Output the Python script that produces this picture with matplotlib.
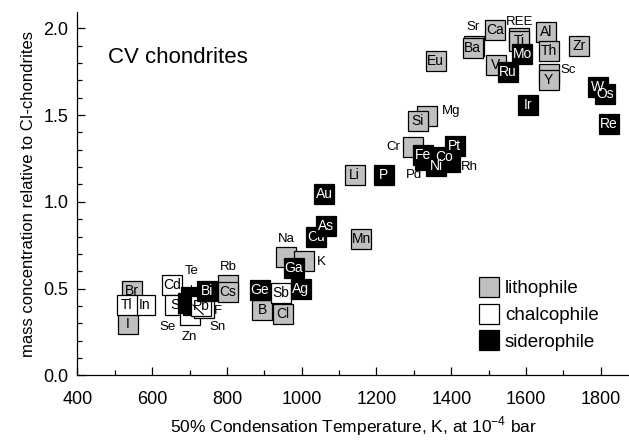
import matplotlib
matplotlib.use("Agg")
import matplotlib.pyplot as plt
from matplotlib.lines import Line2D
from matplotlib.ticker import MultipleLocator, FormatStrFormatter

plt.rcParams['font.family'] = ['Liberation Sans', 'DejaVu Sans']

# element data: name, 50% condensation temperature (K), CV/CI mass ratio, class
# listed in drawing order (later ones sit on top)
elements = ['Br', 'I', 'In', 'Tl', 'Cd', 'S', 'Zn', 'Se', 'Sn', 'Te', 'F', 'Pb',
            'Rb', 'Cs', 'Bi', 'B', 'Cl', 'Ge', 'Sb', 'Na', 'K', 'Ga', 'Ag',
            'Cu', 'As', 'Mn', 'Au', 'Li', 'P', 'Cr', 'Mg', 'Si', 'Pd', 'Rh',
            'Fe', 'Co', 'Pt', 'Ni', 'Eu', 'Sr', 'Ba', 'Ca', 'V', 'REE', 'Ti',
            'Ru', 'Mo', 'Al', 'Th', 'Sc', 'Y', 'Zr', 'Ir', 'W', 'Os', 'Re']
temps = [546, 536, 581, 533, 653, 661, 700, 696, 709, 704, 739, 731,
         803, 803, 748, 894, 950, 888, 945, 958, 1006, 979, 998,
         1038, 1065, 1159, 1060, 1142, 1220, 1298, 1336, 1311, 1329, 1396,
         1324, 1380, 1409, 1359, 1358, 1461, 1457, 1517, 1519, 1582, 1582,
         1552, 1590, 1653, 1661, 1660, 1660, 1741, 1604, 1791, 1812, 1822]
ratios = [0.487, 0.297, 0.406, 0.406, 0.519, 0.406, 0.349, 0.418, 0.406, 0.452, 0.389, 0.400,
          0.522, 0.481, 0.487, 0.377, 0.354, 0.493, 0.475, 0.683, 0.660, 0.620, 0.499,
          0.796, 0.862, 0.787, 1.046, 1.156, 1.156, 1.314, 1.493, 1.468, 1.243, 1.231,
          1.272, 1.260, 1.320, 1.208, 1.814, 1.901, 1.889, 1.993, 1.788, 1.947, 1.927,
          1.748, 1.855, 1.979, 1.872, 1.739, 1.705, 1.898, 1.557, 1.664, 1.624, 1.451]
classes = ['L', 'L', 'C', 'C', 'C', 'C', 'C', 'S', 'S', 'S', 'C', 'C',
           'L', 'L', 'S', 'L', 'L', 'S', 'C', 'L', 'L', 'S', 'S',
           'S', 'S', 'L', 'S', 'L', 'S', 'L', 'L', 'L', 'S', 'S',
           'S', 'S', 'S', 'S', 'L', 'L', 'L', 'L', 'L', 'L', 'L',
           'S', 'S', 'L', 'L', 'L', 'L', 'L', 'S', 'S', 'S', 'S']

class_names = {'L': 'lithophile', 'C': 'chalcophile', 'S': 'siderophile'}

# layout: labels written outside their box (offset in points, leader line?)
outside = {'Te': (0.7, 18.5, True), 'Se': (-14.5, -17.5, True), 'Sn': (17.5, -16, True),
           'Zn': (0, -16, False), 'F': (10, -2.5, False), 'Rb': (0, 12.5, False),
           'Na': (0, 13, False), 'K': (12.5, -0.5, False), 'Cr': (-14.5, 0, False),
           'Mg': (17, 3.5, False), 'Pd': (-7.5, -11, False), 'Rh': (14, -4, False),
           'Sr': (-1, 13.5, False), 'REE': (0, 11, False), 'Sc': (14.5, 2.5, False)}
# crowded boxes whose names stay readable above their neighbours
label_on_top = ['Fe', 'Co', 'Ni', 'Pt', 'W', 'Os']
fills = {'L': '#c0c0c0', 'C': 'white', 'S': 'black'}
text_col = {'L': 'black', 'C': 'black', 'S': 'white'}

fig = plt.figure(figsize=(6.29, 4.41), dpi=100)
ax = fig.add_axes([0.1229, 0.149, 0.877, 0.824])

z = 3
for name, t, r, c in zip(elements, temps, ratios, classes):
    ax.plot(t, r, marker='s', markersize=15, markerfacecolor=fills[c],
            markeredgecolor='black', markeredgewidth=0.9, linestyle='none',
            zorder=z, clip_on=False)
    if name in outside:
        dx, dy, lead = outside[name]
        ax.annotate(name, (t, r), xytext=(dx, dy), textcoords='offset points',
                    ha='center', va='center', fontsize=9.5, zorder=100,
                    arrowprops=dict(arrowstyle='-', color='black', lw=0.8,
                                    shrinkA=4, shrinkB=0) if lead else None)
    else:
        tz = 100 if name in label_on_top else z + 0.5
        ax.text(t, r, name, ha='center', va='center', fontsize=10,
                color=text_col[c], zorder=tz)
    z += 1

ax.set_xlim(400, 1875)
ax.set_ylim(0, 2.095)
ax.xaxis.set_major_locator(MultipleLocator(200))
ax.xaxis.set_minor_locator(MultipleLocator(100))
ax.yaxis.set_major_locator(MultipleLocator(0.5))
ax.yaxis.set_minor_locator(MultipleLocator(0.1))
ax.yaxis.set_major_formatter(FormatStrFormatter('%.1f'))
ax.tick_params(which='both', direction='in', labelsize=13, width=0.9)
ax.tick_params(which='major', length=6)
ax.tick_params(which='minor', length=3.5)
ax.tick_params(axis='x', which='both', pad=11)
ax.tick_params(axis='y', which='both', pad=6.5)
ax.spines['top'].set_visible(False)
ax.spines['right'].set_visible(False)
ax.spines['left'].set_linewidth(0.9)
ax.spines['bottom'].set_linewidth(0.9)

ax.set_xlabel('50% Condensation Temperature, K, at 10$^{\\mathregular{-4}}$ bar',
              fontsize=12.5, labelpad=5)
ax.set_ylabel('mass concentration relative to CI-chondrites', fontsize=12, labelpad=5)
ax.text(0.056, 0.86, 'CV chondrites', transform=ax.transAxes, fontsize=16)

handles = [Line2D([], [], marker='s', markersize=15, linestyle='none',
                  markerfacecolor=fills[k], markeredgecolor='black',
                  markeredgewidth=0.9, label=class_names[k]) for k in ['L', 'C', 'S']]
ax.legend(handles=handles, loc='upper left', bbox_to_anchor=(0.726, 0.262),
          frameon=False, fontsize=13.5, handletextpad=0.25, labelspacing=0.52,
          handlelength=1.2, borderaxespad=0, borderpad=0)

fig.savefig('out.png', dpi=100)
